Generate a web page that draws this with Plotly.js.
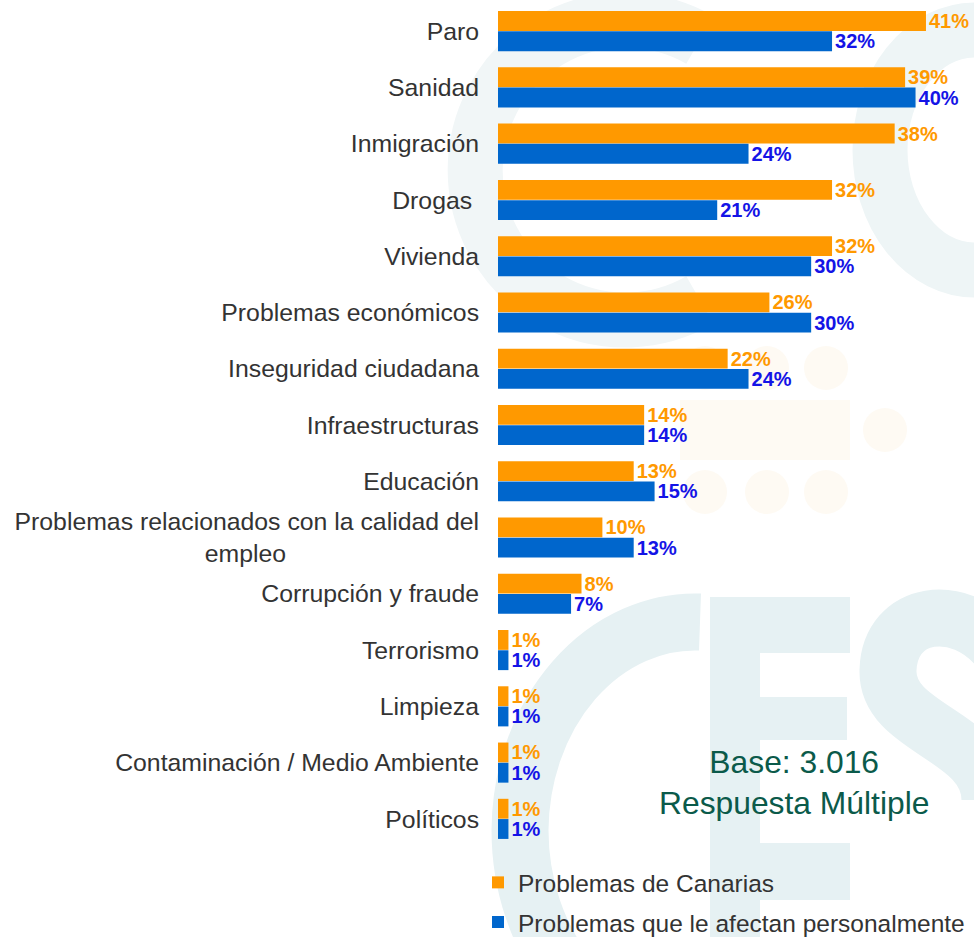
<!DOCTYPE html>
<html>
<head>
<meta charset="utf-8">
<script src="https://cdn.plot.ly/plotly-3.0.1.min.js"></script>
<style>html,body{margin:0;padding:0;background:#fff;}#chart{width:974px;height:937px;}</style>
</head>
<body>
<div id="chart"></div>
<script>
const categories = [
  "Paro", "Sanidad", "Inmigración", "Drogas\u00A0", "Vivienda", "Problemas económicos",
  "Inseguridad ciudadana", "Infraestructuras", "Educación",
  "Problemas relacionados con la calidad del<br>empleo" + "\u00A0".repeat(28),
  "Corrupción y fraude", "Terrorismo", "Limpieza", "Contaminación / Medio Ambiente", "Políticos"
];
const canarias = [41, 39, 38, 32, 32, 26, 22, 14, 13, 10, 8, 1, 1, 1, 1];
const personal = [32, 40, 24, 21, 30, 30, 24, 14, 15, 13, 7, 1, 1, 1, 1];
const seriesNames = ["Problemas de Canarias", "Problemas que le afectan personalmente"];
const noteText = "Base: 3.016<br>Respuesta Múltiple";

// faint "CES" logo watermark in the background (decoration only)
const wm = '<svg xmlns="http://www.w3.org/2000/svg" width="974" height="937" viewBox="0 0 974 937">' +
  '<g fill="none" stroke="#f1f6f7" stroke-width="55">' +
  '<path d="M700,40 A150 150 0 1 0 700 300"/>' +
  '<ellipse cx="975" cy="150" rx="95" ry="120" stroke="#eef5f6"/>' +
  '</g>' +
  '<g fill="#fefaf3">' +
  '<circle cx="705" cy="368" r="22"/><circle cx="767" cy="368" r="22"/><circle cx="826" cy="368" r="22"/>' +
  '<rect x="680" y="400" width="170" height="60"/><circle cx="885" cy="430" r="22"/>' +
  '<circle cx="705" cy="492" r="22"/><circle cx="767" cy="492" r="22"/><circle cx="826" cy="492" r="22"/>' +
  '</g>' +
  '<g fill="none" stroke="#e6f1f3" stroke-width="57">' +
  '<path d="M700,622 A175 210 0 0 0 520 830 A175 210 0 0 0 700 1040"/>' +
  '<path d="M1000,650 C960,600 890,610 888,670 C886,730 990,735 990,800"/>' +
  '</g>' +
  '<g fill="#e6f1f3">' +
  '<rect x="710" y="597" width="50" height="340"/>' +
  '<rect x="710" y="597" width="140" height="56"/>' +
  '<rect x="710" y="697" width="137" height="43"/>' +
  '<rect x="710" y="843" width="140" height="57"/>' +
  '</g>' +
  '</svg>';

const data = [
  {
    type: "bar", orientation: "h", name: seriesNames[0],
    y: categories, x: canarias,
    marker: {color: "#FF9900"},
    text: canarias.map(v => v + "%"),
    texttemplate: "<b>%{text}</b>",
    textposition: "outside", cliponaxis: false, constraintext: "none",
    textfont: {family: "Arial, Liberation Sans, sans-serif", size: 20, color: "#FF9900"},
    legend: "legend", hoverinfo: "none"
  },
  {
    type: "bar", orientation: "h", name: seriesNames[1],
    y: categories, x: personal,
    marker: {color: "#0066CC"},
    text: personal.map(v => v + "%"),
    texttemplate: "<b>%{text}</b>",
    textposition: "outside", cliponaxis: false, constraintext: "none",
    textfont: {family: "Arial, Liberation Sans, sans-serif", size: 20, color: "#1414E6"},
    legend: "legend2", hoverinfo: "none"
  }
];

const legendStyle = {
  x: -0.042, xanchor: "left", yanchor: "middle", orientation: "v",
  font: {size: 24.5, color: "#333333"}, bgcolor: "rgba(0,0,0,0)"
};

const layout = {
  width: 974, height: 937,
  margin: {l: 498, r: 0, t: 3, b: 90, autoexpand: false},
  paper_bgcolor: "rgba(0,0,0,0)", plot_bgcolor: "rgba(0,0,0,0)",
  barmode: "group", bargap: 0.28, bargroupgap: 0.02,
  font: {family: "Arial, Liberation Sans, sans-serif", color: "#333333"},
  xaxis: {range: [0, 45.6], visible: false, fixedrange: true},
  yaxis: {
    autorange: "reversed", showgrid: false, zeroline: false, showline: false,
    ticks: "outside", ticklen: 13, tickcolor: "rgba(0,0,0,0)",
    tickfont: {size: 24.8, color: "#333333"}, fixedrange: true
  },
  showlegend: true,
  legend: Object.assign({}, legendStyle, {y: -0.042}),
  legend2: Object.assign({}, legendStyle, {y: -0.089}),
  annotations: [{
    text: noteText, xref: "paper", yref: "paper", x: 0.622, y: 0.077,
    xanchor: "center", yanchor: "middle", showarrow: false, align: "center",
    font: {size: 31.8, color: "#0B5A4A", family: "Arial, Liberation Sans, sans-serif"}
  }],
  images: [{
    source: "data:image/svg+xml;charset=utf-8," + encodeURIComponent(wm),
    xref: "paper", yref: "paper",
    x: -498 / 476, y: 1 + 3 / 844, sizex: 974 / 476, sizey: 937 / 844,
    xanchor: "left", yanchor: "top", sizing: "stretch", layer: "below", opacity: 1
  }]
};

Plotly.newPlot("chart", data, layout, {displayModeBar: false, staticPlot: true});
</script>
</body>
</html>
